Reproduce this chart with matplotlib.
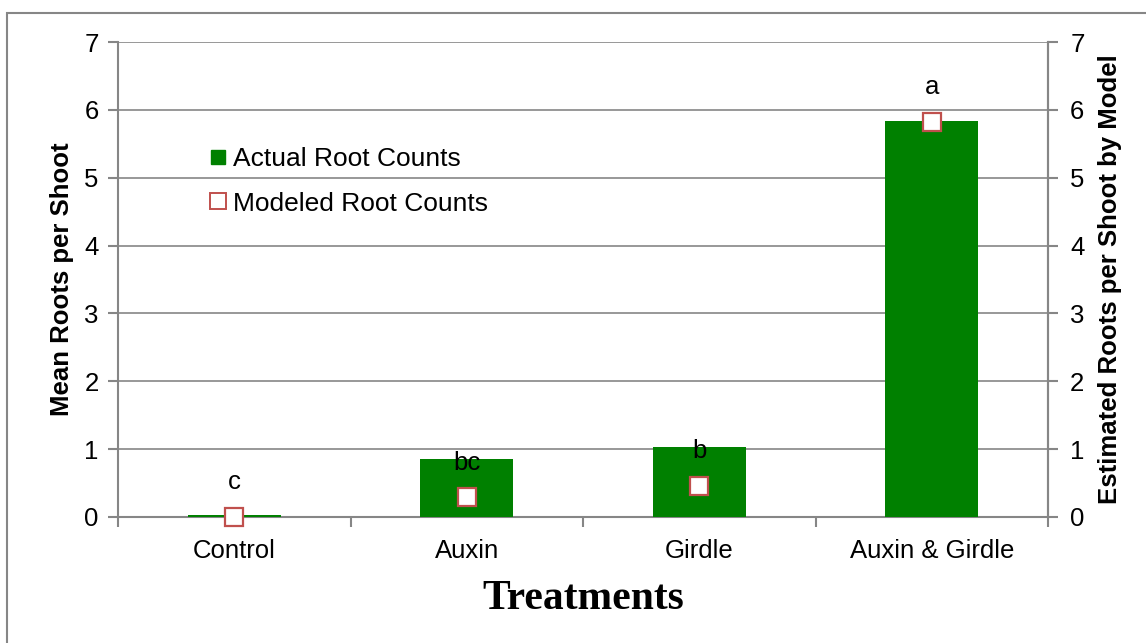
import matplotlib
matplotlib.use("Agg")
import matplotlib.pyplot as plt
from matplotlib.lines import Line2D
from matplotlib.patches import Rectangle

categories = ["Control", "Auxin", "Girdle", "Auxin & Girdle"]
actual_counts = [0.03, 0.85, 1.03, 5.83]
modeled_counts = [0.0, 0.29, 0.46, 5.82]
sig_letters = ["c", "bc", "b", "a"]
yticks = [0, 1, 2, 3, 4, 5, 6, 7]

plt.rcParams['font.family'] = ['Liberation Sans', 'DejaVu Sans']
GRAY = "#868686"
GREEN = "#008000"
RED = "#C0504D"
FS = 18.5

W, H = 1146, 643
fig = plt.figure(figsize=(W / 100, H / 100), dpi=100)
# outer chart border (partially off-canvas)
fig.patches.append(Rectangle((7 / W, -0.1), 1.2, 1 - 13 / H + 0.1, transform=fig.transFigure,
                             fill=False, edgecolor=GRAY, linewidth=1.5))

ax = fig.add_axes([118 / W, 1 - 517 / H, (1048 - 118) / W, (517 - 42) / H])
x = list(range(len(categories)))
ax.bar(x, actual_counts, width=0.4, color=GREEN, zorder=3)
ax.set_xlim(-0.5, 3.5)
ax.set_ylim(0, 7)
ax.set_yticks(yticks)
ax.grid(axis='y', color=GRAY, linewidth=1.2, zorder=0)
ax.set_axisbelow(True)
ax.spines['top'].set_visible(False)
for s in ['left', 'right', 'bottom']:
    ax.spines[s].set_color(GRAY)
    ax.spines[s].set_linewidth(1.5)
ax.set_xticks(x)
ax.set_xticklabels(categories, fontsize=FS)
ax.tick_params(axis='x', which='major', length=0, pad=16)
ax.set_xticks([-0.5, 0.5, 1.5, 2.5, 3.5], minor=True)
ax.tick_params(axis='x', which='minor', length=7, width=1.5, color=GRAY, direction='out')
ax.tick_params(axis='y', labelsize=FS, length=7, width=1.5, color=GRAY, pad=7)
ax.set_ylabel("Mean Roots per Shoot", fontsize=FS, fontweight='bold', labelpad=7)
ax.set_xlabel("Treatments", fontsize=30, fontweight='bold', family='Liberation Serif', labelpad=12)

ax2 = ax.twinx()
ax2.set_ylim(0, 7)
ax2.set_yticks(yticks)
for s in ['top', 'left', 'bottom']:
    ax2.spines[s].set_visible(False)
ax2.spines['right'].set_color(GRAY)
ax2.spines['right'].set_linewidth(1.5)
ax2.tick_params(axis='y', labelsize=FS, length=7, width=1.5, color=GRAY, pad=9)
ax2.set_ylabel("Estimated Roots per Shoot by Model", fontsize=FS, fontweight='bold',
               rotation=90, labelpad=10)
ax2.plot(x, modeled_counts, linestyle='none', marker='s', markersize=13,
         markerfacecolor='white', markeredgecolor=RED, markeredgewidth=1.6, zorder=5,
         clip_on=False)
for xi, yi, lab in zip(x, modeled_counts, sig_letters):
    ax2.annotate(lab, (xi, yi), xytext=(0, 25), textcoords='offset points',
                 ha='center', va='center', fontsize=FS)

handles = [Line2D([], [], linestyle='none', marker='s', markersize=10,
                  markerfacecolor=GREEN, markeredgecolor=GREEN),
           Line2D([], [], linestyle='none', marker='s', markersize=12,
                  markerfacecolor='white', markeredgecolor=RED, markeredgewidth=1.4)]
leg = ax2.legend(handles, ["Actual Root Counts", "Modeled Root Counts"],
                 loc='upper left', bbox_to_anchor=(209 / W, 1 - 147 / H),
                 bbox_transform=fig.transFigure, frameon=False, fontsize=19,
                 handlelength=0.7, handletextpad=0.2, labelspacing=0.78,
                 borderpad=0.0, borderaxespad=0)

fig.savefig("out.png", dpi=100)
